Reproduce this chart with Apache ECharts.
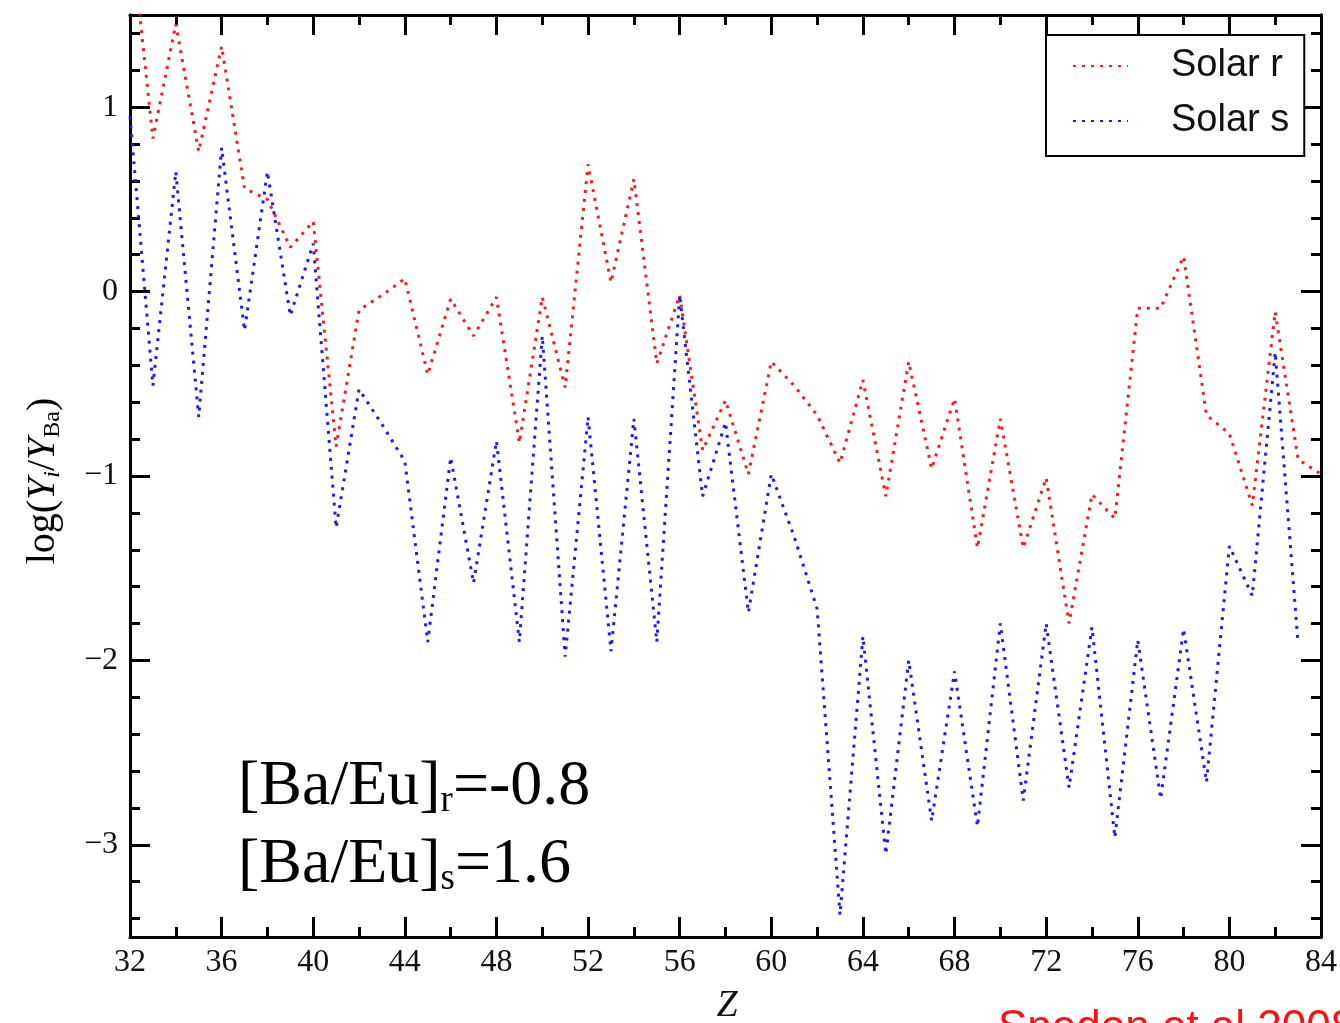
<!DOCTYPE html>
<html>
<head>
<meta charset="utf-8">
<script src="https://cdn.jsdelivr.net/npm/echarts@6/dist/echarts.min.js"></script>
<style>
html,body{margin:0;padding:0;background:#fff;}
#chart{width:1340px;height:1023px;}
</style>
</head>
<body>
<div id="chart"></div>
<script>
// Atomic number Z
const zValues = [32,33,34,35,36,37,38,39,40,41,42,43,44,45,46,47,48,49,50,51,52,53,54,55,56,57,58,59,60,61,62,63,64,65,66,67,68,69,70,71,72,73,74,75,76,77,78,79,80,81,82,83,84];
// log(Y_i / Y_Ba), solar r-process
const solarR = [2.00,0.83,1.45,0.76,1.33,0.56,0.50,0.24,0.38,-0.84,-0.10,-0.02,0.07,-0.45,-0.04,-0.24,-0.03,-0.82,-0.03,-0.52,0.69,0.05,0.61,-0.39,-0.02,-0.86,-0.59,-0.99,-0.38,-0.51,-0.67,-0.93,-0.48,-1.11,-0.38,-0.96,-0.58,-1.39,-0.69,-1.39,-1.01,-1.80,-1.10,-1.23,-0.09,-0.09,0.19,-0.67,-0.77,-1.16,-0.11,-0.91,-0.99];
// log(Y_i / Y_Ba), solar s-process (Z = 32..83)
const solarS = [0.95,-0.51,0.65,-0.68,0.78,-0.21,0.65,-0.13,0.26,-1.28,-0.53,-0.72,-0.92,-1.90,-0.90,-1.58,-0.81,-1.90,-0.24,-1.98,-0.68,-1.95,-0.69,-1.90,-0.02,-1.11,-0.71,-1.74,-0.99,-1.33,-1.72,-3.38,-1.87,-3.05,-2.00,-2.87,-2.06,-2.90,-1.80,-2.76,-1.80,-2.69,-1.82,-2.96,-1.89,-2.75,-1.83,-2.66,-1.38,-1.65,-0.33,-1.91];
// y tick marks
const yMajorTicks = [-3,-2,-1,0,1];
const yMinorTicks = [-3.4,-3.2,-2.8,-2.6,-2.4,-2.2,-1.8,-1.6,-1.4,-1.2,-0.8,-0.6,-0.4,-0.2,0.2,0.4,0.6,0.8,1.2,1.4];
const seriesNames = ['Solar r','Solar s'];

const chart = echarts.init(document.getElementById('chart'), null, {renderer:'canvas'});
const black = '#000';
const serif = 'Liberation Serif';
const tickLine = {color: black, width: 3};

function xAxisDef(pos, showLabel){
  return {
    type:'value', min:32, max:84, interval:4, position:pos,
    axisLine:{show:true, onZero:false, lineStyle:{color:black, width:3}},
    axisTick:{show:true, inside:true, length:20, lineStyle:tickLine},
    minorTick:{show:true, splitNumber:2, length:10, lineStyle:tickLine},
    splitLine:{show:false}, minorSplitLine:{show:false},
    axisLabel:{show:showLabel, fontFamily:serif, fontSize:32, color:'#111', margin:10}
  };
}
function yAxisDef(pos, ticks, len, showLabel){
  return {
    type:'value', min:-3.5, max:1.5, position:pos,
    axisLine:{show:true, onZero:false, lineStyle:{color:black, width:3}},
    axisTick:{show:true, inside:true, length:len, lineStyle:tickLine, customValues:ticks},
    splitLine:{show:false},
    axisLabel:{show:showLabel, customValues:ticks, fontFamily:serif, fontSize:32, color:'#111', margin:12,
      formatter:v => String(v).replace('-', '\u2212')}
  };
}

const rData = zValues.map((z,i)=>[z, solarR[i]]);
const sData = solarS.map((v,i)=>[zValues[i], v]);

const option = {
  animation:false,
  backgroundColor:'#fff',
  grid:{left:130, right:18, top:15, bottom:86, containLabel:false},
  xAxis:[xAxisDef('bottom', true), xAxisDef('top', false)],
  yAxis:[
    yAxisDef('left', yMajorTicks, 20, true),
    yAxisDef('left', yMinorTicks, 10, false),
    yAxisDef('right', yMajorTicks, 20, false),
    yAxisDef('right', yMinorTicks, 10, false)
  ],
  legend:{
    data:seriesNames, orient:'vertical', left:1046, top:35,
    itemWidth:55, itemHeight:14, itemGap:15,
    padding:[11,15,15,26],
    borderColor:black, borderWidth:2, backgroundColor:'#fff',
    itemStyle:{opacity:0},
    textStyle:{fontFamily:'Liberation Sans', fontSize:38, color:'#111', lineHeight:40, padding:[0,0,0,38]}
  },
  series:[
    {name:seriesNames[0], type:'line', data:rData, xAxisIndex:0, yAxisIndex:0,
      showSymbol:false, symbol:'none', clip:true,
      lineStyle:{color:'#ff1a1a', width:3, type:[3,6]}, itemStyle:{color:'#ff1a1a'}},
    {name:seriesNames[1], type:'line', data:sData, xAxisIndex:0, yAxisIndex:0,
      showSymbol:false, symbol:'none', clip:true,
      lineStyle:{color:'#1a1aff', width:3, type:[3,6]}, itemStyle:{color:'#1a1aff'}}
  ],
  graphic:[
    {type:'text', x:43, y:481, rotation:Math.PI/2,
      style:{text:'{n|log(}{it|Y}{sub|i}{n|/}{it|Y}{subr|Ba}{n|)}', align:'center', verticalAlign:'middle',
        rich:{
          n:{fontFamily:serif, fontSize:40, color:'#111', lineHeight:44, verticalAlign:'middle'},
          it:{fontFamily:serif, fontStyle:'italic', fontSize:40, color:'#111', lineHeight:44, verticalAlign:'middle'},
          sub:{fontFamily:serif, fontStyle:'italic', fontSize:24, color:'#111', lineHeight:44, verticalAlign:'bottom'},
          subr:{fontFamily:serif, fontSize:24, color:'#111', lineHeight:44, verticalAlign:'bottom'}
        }}},
    {type:'text', x:727, y:1006, style:{text:'Z', fontFamily:serif, fontStyle:'italic', fontSize:38, fill:'#111', align:'center', verticalAlign:'middle'}},
    {type:'text', x:998, y:1007, style:{text:'Sneden et al 2008', fontFamily:'Liberation Sans', fontSize:44, fill:'#ff1010', align:'left', verticalAlign:'top'}},
    {type:'text', x:238, y:754,
      style:{text:'{m|[Ba/Eu]}{s|r}{m|=-0.8}', align:'left', verticalAlign:'top',
        rich:{m:{fontFamily:serif, fontSize:64, color:'#5a5438', lineHeight:66, verticalAlign:'middle'},
              s:{fontFamily:serif, fontSize:37, color:'#5a5438', lineHeight:66, verticalAlign:'bottom'}}}},
    {type:'text', x:238, y:832,
      style:{text:'{m|[Ba/Eu]}{s|s}{m|=1.6}', align:'left', verticalAlign:'top',
        rich:{m:{fontFamily:serif, fontSize:64, color:'#5a5438', lineHeight:66, verticalAlign:'middle'},
              s:{fontFamily:serif, fontSize:37, color:'#5a5438', lineHeight:66, verticalAlign:'bottom'}}}}
  ]
};
chart.setOption(option);
</script>
</body>
</html>
